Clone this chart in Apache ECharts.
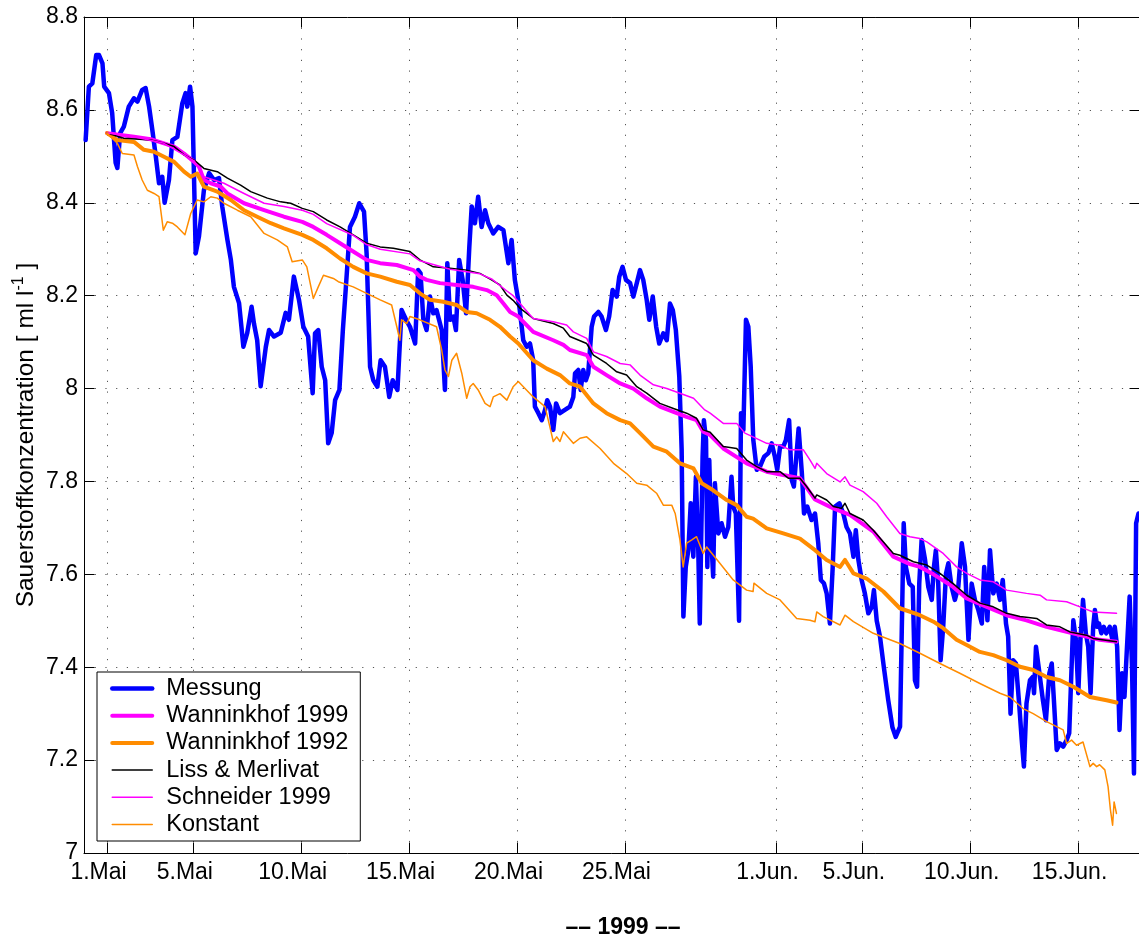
<!DOCTYPE html>
<html>
<head>
<meta charset="utf-8">
<script src="https://cdn.jsdelivr.net/npm/echarts@6/dist/echarts.min.js"></script>
<style>
  html, body { margin: 0; padding: 0; background: #ffffff; }
  #chart { width: 1139px; height: 935px; }
</style>
</head>
<body>
<div id="chart"></div>
<script>
// Zeitachse: Tage seit dem 1. Mai 1999
const tickTage = [0, 4, 9, 14, 19, 24, 31, 35, 40, 45];
const tickLabels = ['1.Mai', '5.Mai', '10.Mai', '15.Mai', '20.Mai', '25.Mai', '1.Jun.', '5.Jun.', '10.Jun.', '15.Jun.'];

// Gemessene Sauerstoffkonzentration [ml/l]: [Tag, Wert]
const messung = [
  [-0.99,8.535],[-0.84,8.65],[-0.68,8.657],[-0.50,8.718],[-0.37,8.718],[-0.21,8.70],[-0.13,8.65],[0.09,8.636],
  [0.24,8.593],[0.40,8.486],[0.48,8.475],[0.61,8.55],[0.78,8.564],[1.01,8.607],[1.25,8.625],[1.41,8.618],
  [1.63,8.643],[1.79,8.647],[1.95,8.607],[2.10,8.557],[2.26,8.50],[2.41,8.442],[2.56,8.456],[2.67,8.40],
  [2.87,8.449],[3.03,8.535],[3.26,8.542],[3.49,8.614],[3.64,8.636],[3.72,8.607],[3.85,8.65],[3.96,8.607],
  [4.11,8.291],[4.26,8.327],[4.49,8.427],[4.73,8.464],[4.96,8.449],[5.19,8.453],[5.34,8.392],[5.58,8.32],
  [5.74,8.277],[5.88,8.219],[6.12,8.184],[6.32,8.09],[6.50,8.12],[6.70,8.176],[6.81,8.14],[6.96,8.104],
  [7.12,8.005],[7.36,8.09],[7.51,8.126],[7.74,8.112],[8.05,8.12],[8.28,8.163],[8.43,8.148],[8.66,8.241],
  [8.90,8.19],[9.10,8.133],[9.32,8.112],[9.53,7.99],[9.64,8.119],[9.79,8.126],[9.95,8.047],[10.11,8.018],
  [10.25,7.882],[10.41,7.904],[10.57,7.975],[10.77,7.997],[10.93,8.126],[11.07,8.219],[11.26,8.348],[11.49,8.37],
  [11.69,8.399],[11.91,8.381],[12.03,8.291],[12.19,8.047],[12.34,8.018],[12.53,8.004],[12.68,8.061],[12.88,8.047],
  [13.08,7.982],[13.24,8.018],[13.46,7.997],[13.65,8.169],[13.86,8.148],[14.04,8.133],[14.28,8.097],[14.42,8.255],
  [14.53,8.248],[14.66,8.148],[14.81,8.126],[14.97,8.198],[15.12,8.162],[15.27,8.169],[15.51,8.126],[15.66,7.997],
  [15.77,8.27],[15.90,8.148],[16.05,8.155],[16.17,8.126],[16.32,8.277],[16.48,8.234],[16.64,8.162],[16.79,8.305],
  [16.90,8.392],[17.05,8.356],[17.20,8.413],[17.36,8.348],[17.52,8.384],[17.67,8.356],[17.90,8.334],[18.13,8.348],
  [18.37,8.341],[18.60,8.27],[18.75,8.32],[18.90,8.234],[19.11,8.176],[19.29,8.104],[19.45,8.09],[19.60,8.097],
  [19.75,8.061],[19.83,7.961],[19.99,7.947],[20.15,7.932],[20.30,7.954],[20.40,7.975],[20.53,7.961],[20.68,7.911],
  [20.81,7.968],[20.99,7.947],[21.22,7.954],[21.45,7.961],[21.61,7.982],[21.69,8.033],[21.84,8.04],[21.95,7.997],
  [22.07,8.04],[22.19,8.018],[22.30,8.033],[22.46,8.133],[22.57,8.155],[22.77,8.165],[22.92,8.155],[23.12,8.126],
  [23.27,8.155],[23.43,8.212],[23.62,8.198],[23.74,8.241],[23.89,8.262],[24.05,8.234],[24.24,8.227],[24.39,8.198],
  [24.55,8.227],[24.70,8.255],[24.85,8.234],[25.01,8.191],[25.13,8.148],[25.29,8.198],[25.45,8.133],[25.59,8.097],
  [25.78,8.119],[25.94,8.104],[26.09,8.183],[26.22,8.169],[26.36,8.126],[26.52,8.026],[26.63,7.868],[26.71,7.509],
  [26.82,7.616],[26.94,7.652],[27.05,7.753],[27.17,7.638],[27.29,7.81],[27.40,7.652],[27.47,7.494],[27.60,7.853],
  [27.66,7.932],[27.76,7.889],[27.82,7.616],[27.91,7.846],[27.99,7.688],[28.09,7.595],[28.17,7.796],[28.33,7.688],
  [28.48,7.71],[28.64,7.681],[28.79,7.702],[28.94,7.81],[29.02,7.746],[29.14,7.731],[29.29,7.5],[29.38,7.947],
  [29.49,7.911],[29.61,8.148],[29.72,8.133],[29.83,8.047],[29.95,7.889],[30.11,7.825],[30.26,7.832],[30.45,7.853],
  [30.65,7.861],[30.80,7.882],[30.95,7.853],[31.06,7.825],[31.19,7.875],[31.34,7.875],[31.46,7.889],[31.61,7.932],
  [31.73,7.803],[31.83,7.789],[31.93,7.846],[32.05,7.914],[32.20,7.818],[32.30,7.731],[32.45,7.746],[32.65,7.717],
  [32.81,7.731],[32.96,7.667],[33.08,7.588],[33.22,7.581],[33.35,7.559],[33.50,7.494],[33.63,7.616],[33.74,7.746],
  [33.94,7.753],[34.12,7.731],[34.27,7.702],[34.43,7.688],[34.59,7.638],[34.70,7.695],[34.82,7.631],[34.97,7.588],
  [35.12,7.559],[35.28,7.516],[35.44,7.53],[35.54,7.566],[35.67,7.5],[35.82,7.466],[36.00,7.40],[36.20,7.33],
  [36.40,7.27],[36.55,7.25],[36.75,7.272],[36.92,7.71],[37.02,7.616],[37.18,7.58],[37.34,7.573],[37.44,7.372],
  [37.54,7.358],[37.64,7.58],[37.75,7.674],[37.91,7.631],[38.06,7.573],[38.22,7.545],[38.32,7.616],[38.41,7.652],
  [38.52,7.58],[38.63,7.415],[38.75,7.487],[38.88,7.602],[38.99,7.624],[39.14,7.573],[39.29,7.545],[39.45,7.573],
  [39.61,7.667],[39.76,7.616],[39.92,7.459],[40.07,7.58],[40.22,7.545],[40.38,7.523],[40.54,7.494],[40.65,7.616],
  [40.80,7.501],[40.92,7.652],[41.07,7.559],[41.23,7.58],[41.38,7.545],[41.51,7.588],[41.66,7.494],[41.76,7.466],
  [41.87,7.30],[41.99,7.415],[42.12,7.408],[42.28,7.315],[42.39,7.243],[42.49,7.186],[42.61,7.322],[42.77,7.372],
  [42.90,7.379],[42.96,7.344],[43.05,7.444],[43.21,7.387],[43.37,7.329],[43.51,7.286],[43.67,7.387],[43.78,7.408],
  [43.88,7.329],[44.01,7.222],[44.16,7.236],[44.31,7.229],[44.47,7.243],[44.59,7.258],[44.70,7.401],[44.78,7.501],
  [44.90,7.459],[45.01,7.344],[45.11,7.459],[45.23,7.545],[45.36,7.473],[45.47,7.444],[45.58,7.344],[45.70,7.487],
  [45.78,7.523],[45.89,7.487],[45.97,7.494],[46.08,7.473],[46.19,7.487],[46.31,7.473],[46.47,7.487],[46.59,7.459],
  [46.70,7.487],[46.81,7.444],[46.92,7.265],[47.04,7.387],[47.15,7.336],[47.26,7.437],[47.39,7.552],[47.50,7.401],
  [47.59,7.171],[47.69,7.71],[47.80,7.731]
];

// Modellrechnungen mit verschiedenen Gasaustausch-Parametrisierungen: [Tag, Wert]
const wanninkhof1999 = [
  [0,8.55],[1.25,8.542],[2.03,8.537],[2.64,8.528],[3.11,8.521],[3.57,8.506],[4.04,8.488],[4.26,8.478],
  [4.49,8.449],[4.81,8.442],[5.27,8.435],[5.58,8.42],[6.35,8.399],[7.28,8.384],[8.20,8.37],[9.05,8.359],
  [9.56,8.348],[10.18,8.331],[10.80,8.313],[11.41,8.295],[12.03,8.277],[12.66,8.27],[13.43,8.266],[14.20,8.255],
  [14.50,8.241],[14.81,8.234],[15.43,8.227],[16.20,8.223],[16.97,8.219],[17.60,8.212],[18.06,8.201],[18.37,8.183],
  [18.68,8.165],[19.06,8.155],[19.75,8.122],[20.68,8.104],[21.15,8.094],[21.45,8.083],[22.23,8.072],[22.54,8.047],
  [23.15,8.029],[23.78,8.011],[24.39,8.0],[25.01,7.979],[25.62,7.961],[26.25,7.95],[26.86,7.939],[27.32,7.932],
  [27.63,7.907],[27.95,7.90],[28.56,7.871],[29.64,7.839],[30.57,7.821],[32.11,7.807],[32.81,7.761],[33.66,7.742],
  [34.43,7.728],[35.51,7.692],[36.44,7.638],[37.21,7.622],[37.67,7.616],[38.30,7.60],[39.21,7.573],[39.84,7.548],
  [40.77,7.53],[41.69,7.512],[42.61,7.501],[43.54,7.487],[44.47,7.476],[45.39,7.466],[46.00,7.459],[46.78,7.455]
];

const wanninkhof1992 = [
  [0,8.55],[0.48,8.535],[1.25,8.531],[1.71,8.514],[2.18,8.51],[2.64,8.499],[3.11,8.488],[3.57,8.467],
  [3.88,8.456],[4.18,8.463],[4.49,8.435],[5.11,8.424],[5.74,8.406],[6.35,8.384],[6.96,8.37],[7.59,8.356],
  [8.20,8.345],[9.05,8.331],[9.56,8.32],[10.18,8.302],[10.80,8.28],[11.41,8.262],[12.03,8.248],[12.66,8.241],
  [13.43,8.23],[14.04,8.223],[14.50,8.205],[14.97,8.191],[15.58,8.187],[16.20,8.18],[16.67,8.165],[17.13,8.162],
  [17.75,8.148],[18.21,8.133],[18.68,8.112],[19.06,8.097],[19.75,8.061],[20.38,8.043],[20.99,8.029],[21.45,8.011],
  [21.92,8.004],[22.54,7.968],[23.15,7.947],[23.78,7.932],[24.24,7.925],[24.70,7.904],[25.32,7.875],[25.94,7.864],
  [26.55,7.839],[27.18,7.828],[27.56,7.796],[28.09,7.781],[28.72,7.76],[29.18,7.749],[29.64,7.724],[29.94,7.72],
  [30.57,7.699],[31.34,7.688],[32.11,7.677],[32.81,7.652],[33.35,7.631],[33.97,7.616],[34.20,7.631],[34.59,7.602],
  [35.20,7.591],[35.98,7.563],[36.74,7.527],[37.67,7.512],[38.30,7.498],[38.75,7.484],[39.37,7.459],[39.84,7.448],
  [40.45,7.433],[41.07,7.426],[41.69,7.415],[42.31,7.401],[42.92,7.394],[43.54,7.379],[44.16,7.372],[44.78,7.358],
  [45.55,7.336],[46.32,7.329],[46.78,7.324]
];

const lissMerlivat = [
  [0,8.55],[0.78,8.539],[2.03,8.535],[2.64,8.528],[3.11,8.521],[3.57,8.503],[4.04,8.492],[4.49,8.474],
  [5.11,8.467],[5.58,8.453],[6.19,8.438],[6.66,8.424],[7.43,8.41],[8.05,8.402],[8.51,8.399],[9.05,8.388],
  [9.56,8.381],[10.18,8.363],[10.80,8.348],[11.41,8.331],[12.03,8.313],[12.66,8.305],[13.27,8.302],[14.04,8.295],
  [14.50,8.277],[15.12,8.262],[15.90,8.259],[16.67,8.255],[17.28,8.248],[17.82,8.234],[18.21,8.223],[18.53,8.201],
  [18.82,8.19],[19.14,8.173],[19.75,8.151],[20.68,8.14],[21.15,8.13],[21.45,8.112],[22.23,8.097],[22.54,8.072],
  [23.15,8.054],[23.62,8.036],[24.08,8.029],[24.55,8.004],[25.01,7.99],[25.62,7.968],[26.25,7.957],[26.86,7.947],
  [27.32,7.936],[27.63,7.911],[27.95,7.906],[28.56,7.875],[29.18,7.871],[29.64,7.846],[30.11,7.832],[30.57,7.821],
  [31.19,7.821],[31.57,7.807],[32.11,7.807],[32.42,7.789],[32.81,7.764],[32.89,7.771],[33.35,7.76],[33.66,7.746],
  [34.04,7.742],[34.20,7.753],[34.43,7.731],[35.04,7.717],[35.51,7.695],[35.90,7.674],[36.44,7.645],[36.74,7.641],
  [37.37,7.627],[37.99,7.62],[38.60,7.602],[39.21,7.58],[39.84,7.555],[40.45,7.538],[41.07,7.53],[41.69,7.516],
  [42.31,7.509],[43.08,7.505],[43.54,7.491],[44.16,7.487],[44.62,7.476],[45.39,7.469],[45.70,7.462],[46.78,7.455]
];

const schneider1999 = [
  [0,8.55],[1.25,8.542],[2.64,8.528],[3.57,8.503],[4.04,8.49],[4.49,8.456],[5.42,8.442],[6.35,8.42],
  [7.28,8.399],[8.20,8.392],[9.05,8.384],[9.56,8.375],[10.18,8.355],[11.41,8.33],[12.03,8.31],[12.66,8.30],
  [14.04,8.29],[14.50,8.275],[15.90,8.257],[17.28,8.247],[17.82,8.236],[18.53,8.21],[18.82,8.20],[19.14,8.183],
  [19.75,8.151],[20.68,8.144],[21.30,8.137],[21.61,8.122],[22.23,8.108],[22.54,8.079],[23.15,8.069],[23.78,8.054],
  [24.24,8.051],[24.70,8.029],[25.32,8.008],[25.94,8.0],[26.55,7.99],[27.18,7.979],[27.70,7.954],[27.95,7.947],
  [28.56,7.925],[29.18,7.925],[29.56,7.904],[29.94,7.896],[30.57,7.882],[31.19,7.878],[31.65,7.868],[32.27,7.868],
  [32.58,7.846],[32.81,7.828],[32.89,7.839],[33.35,7.817],[33.97,7.799],[34.20,7.81],[34.43,7.792],[35.04,7.778],
  [35.67,7.753],[36.13,7.724],[36.74,7.688],[37.21,7.681],[37.67,7.677],[37.99,7.67],[38.75,7.645],[39.37,7.616],
  [39.84,7.602],[40.45,7.588],[41.07,7.584],[41.69,7.566],[42.61,7.559],[43.24,7.555],[43.54,7.545],[44.47,7.541],
  [45.09,7.53],[45.70,7.519],[46.78,7.516]
];

const konstant = [
  [0,8.55],[0.48,8.528],[0.71,8.506],[1.25,8.503],[1.41,8.478],[1.63,8.449],[1.87,8.427],[2.18,8.42],
  [2.41,8.413],[2.61,8.341],[2.79,8.359],[3.03,8.356],[3.26,8.348],[3.61,8.331],[3.88,8.377],[4.18,8.406],
  [4.49,8.402],[4.81,8.413],[5.11,8.41],[5.42,8.399],[6.04,8.384],[6.66,8.37],[7.28,8.334],[7.89,8.32],
  [8.36,8.305],[8.58,8.273],[9.05,8.277],[9.26,8.262],[9.56,8.194],[9.79,8.219],[10.03,8.244],[10.49,8.237],
  [10.72,8.23],[11.41,8.219],[12.03,8.205],[12.66,8.191],[13.19,8.18],[13.43,8.133],[13.57,8.104],[13.65,8.148],
  [13.89,8.14],[14.04,8.155],[14.50,8.148],[15.27,8.133],[15.51,8.083],[15.66,8.04],[15.82,8.026],[15.98,8.061],
  [16.20,8.076],[16.44,8.033],[16.67,7.979],[16.82,8.004],[16.97,8.011],[17.20,7.997],[17.52,7.968],[17.75,7.961],
  [17.90,7.982],[18.21,7.989],[18.53,7.975],[18.82,8.004],[19.06,8.015],[19.75,7.982],[20.30,7.961],[20.52,7.918],
  [20.68,7.886],[20.84,7.896],[20.99,7.886],[21.15,7.907],[21.61,7.882],[21.92,7.893],[22.23,7.896],[22.85,7.871],
  [23.47,7.839],[24.08,7.817],[24.55,7.796],[25.01,7.792],[25.48,7.774],[25.78,7.749],[26.17,7.749],[26.33,7.731],
  [26.55,7.674],[26.70,7.616],[26.86,7.667],[27.10,7.674],[27.32,7.681],[27.63,7.645],[27.79,7.659],[28.40,7.624],
  [29.02,7.588],[29.64,7.566],[29.94,7.563],[29.98,7.581],[30.57,7.559],[31.19,7.545],[31.96,7.505],[32.58,7.501],
  [32.81,7.498],[32.89,7.519],[33.19,7.509],[33.97,7.491],[34.20,7.512],[34.59,7.498],[35.51,7.473],[36.74,7.451],
  [37.67,7.43],[38.60,7.408],[39.52,7.387],[40.45,7.365],[41.38,7.344],[41.84,7.336],[42.45,7.311],[42.92,7.30],
  [43.54,7.283],[44.01,7.272],[44.31,7.265],[44.47,7.236],[44.70,7.243],[44.93,7.232],[45.23,7.239],[45.55,7.186],
  [45.70,7.193],[45.86,7.186],[46.00,7.19],[46.24,7.179],[46.39,7.143],[46.50,7.093],[46.60,7.06],[46.67,7.11],
  [46.78,7.085]
];

const FONT = '"Liberation Sans", Arial, Helvetica, sans-serif';
const X_MIN = -1.066, X_MAX = 47.87;
const BLUE = '#0000ff', MAGENTA = '#ff00ff', ORANGE = '#ff8c00', BLACK = '#000000';

const gridDots = { show: true, lineStyle: { color: '#555', width: 1, type: [1.2, 9.5] } };

function lineSeries(name, data, color, width, z) {
  return {
    name, type: 'line', data, symbol: 'none', showSymbol: false, z,
    lineStyle: { color, width, join: 'round', cap: 'round' },
    itemStyle: { color },
    emphasis: { disabled: true }, silent: true, clip: true
  };
}

const chart = echarts.init(document.getElementById('chart'), null, { renderer: 'canvas' });
chart.setOption({
  animation: false,
  backgroundColor: '#ffffff',
  textStyle: { fontFamily: FONT },
  grid: { left: 84, top: 17, width: 1056, height: 836, containLabel: false, outerBoundsMode: 'none' },
  xAxis: [{
    type: 'value', min: X_MIN, max: X_MAX, position: 'bottom',
    axisLine: { show: true, onZero: false, lineStyle: { color: BLACK, width: 1 } },
    axisTick: { show: true, inside: true, length: 10.5, customValues: tickTage, lineStyle: { color: BLACK } },
    axisLabel: {
      customValues: tickTage, color: BLACK, fontFamily: FONT, fontSize: 23, margin: 8,
      padding: [0, 17, 0, 0],
      formatter: v => tickLabels[tickTage.indexOf(v)] || ''
    },
    splitLine: gridDots,
    name: '–– 1999 ––', nameLocation: 'middle', nameGap: 63, nameMoveOverlap: false,
    nameTextStyle: { fontFamily: FONT, fontSize: 23, fontWeight: 'bold', color: BLACK, padding: [0, 0, 0, 22] }
  }, {
    type: 'value', min: X_MIN, max: X_MAX, position: 'top',
    axisLine: { show: true, onZero: false, lineStyle: { color: BLACK, width: 1 } },
    axisTick: { show: true, inside: true, length: 10.5, customValues: tickTage, lineStyle: { color: BLACK } },
    axisLabel: { show: false }, splitLine: { show: false }
  }],
  yAxis: [{
    type: 'value', min: 7, max: 8.8, interval: 0.2, position: 'left',
    axisLine: { show: true, onZero: false, lineStyle: { color: BLACK, width: 1 } },
    axisTick: { show: true, inside: true, length: 10.5, lineStyle: { color: BLACK } },
    axisLabel: { color: BLACK, fontFamily: FONT, fontSize: 23, margin: 6 },
    splitLine: gridDots,
    name: '{a|Sauerstoffkonzentration [ ml l}{b|-1}{a| ]}',
    nameLocation: 'middle', nameRotate: 90, nameGap: 43, nameMoveOverlap: false,
    nameTextStyle: {
      color: BLACK,
      rich: {
        a: { fontFamily: FONT, fontSize: 24.5, color: BLACK, lineHeight: 30 },
        b: { fontFamily: FONT, fontSize: 16, color: BLACK, verticalAlign: 'top', lineHeight: 30 }
      }
    }
  }, {
    type: 'value', min: 7, max: 8.8, interval: 0.2, position: 'right',
    axisLine: { show: true, onZero: false, lineStyle: { color: BLACK, width: 1 } },
    axisTick: { show: true, inside: true, length: 10.5, lineStyle: { color: BLACK } },
    axisLabel: { show: false }, splitLine: { show: false }
  }],
  legend: {
    orient: 'vertical', left: 97, top: 672,
    padding: [3, 12, 3, 13],
    backgroundColor: '#ffffff', borderColor: BLACK, borderWidth: 1, borderRadius: 0,
    itemWidth: 40, itemHeight: 14, itemGap: 0.2,
    selectedMode: false,
    itemStyle: { opacity: 0 },
    textStyle: { fontFamily: FONT, fontSize: 23.5, color: BLACK, lineHeight: 27, padding: [0, 0, 0, 9] },
    data: [
      { name: 'Messung', lineStyle: { color: BLUE, width: 4.5 } },
      { name: 'Wanninkhof 1999', lineStyle: { color: MAGENTA, width: 4 } },
      { name: 'Wanninkhof 1992', lineStyle: { color: ORANGE, width: 4 } },
      { name: 'Liss & Merlivat', lineStyle: { color: BLACK, width: 1.5 } },
      { name: 'Schneider 1999', lineStyle: { color: MAGENTA, width: 1.5 } },
      { name: 'Konstant', lineStyle: { color: ORANGE, width: 1.5 } }
    ]
  },
  series: [
    lineSeries('Messung', messung, BLUE, 4.5, 2),
    lineSeries('Wanninkhof 1999', wanninkhof1999, MAGENTA, 4, 3),
    lineSeries('Wanninkhof 1992', wanninkhof1992, ORANGE, 4, 4),
    lineSeries('Liss & Merlivat', lissMerlivat, BLACK, 1.5, 5),
    lineSeries('Schneider 1999', schneider1999, MAGENTA, 1.5, 6),
    lineSeries('Konstant', konstant, ORANGE, 1.5, 7)
  ]
});
</script>
</body>
</html>
